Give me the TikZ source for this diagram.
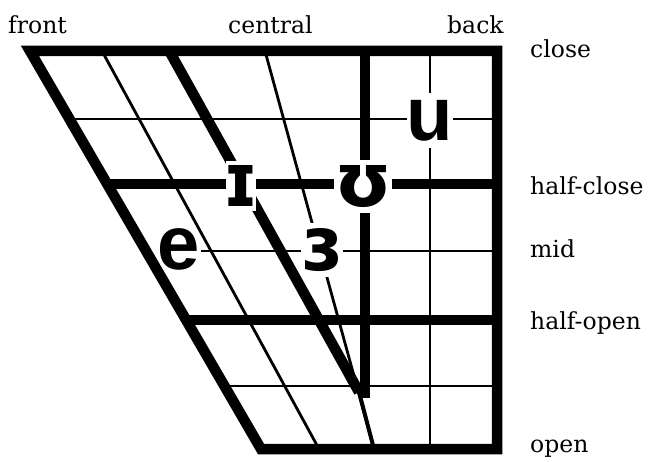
\documentclass[tikz,border=0pt]{standalone}
\usepackage{fontspec}
\setmainfont{DejaVu Serif}
\newfontfamily\ipafont{DejaVu Sans}
\newfontfamily\helvfont{Liberation Sans}
\usetikzlibrary{backgrounds}
\begin{document}
\begin{tikzpicture}[x=1pt,y=-1pt,
  thickline/.style={line width=10.5pt},
  thinline/.style={line width=2.8pt},
  lbl/.style={anchor=base west, inner sep=0pt, font=\fontsize{23.5}{26}\selectfont},
  vowelipa/.style={inner sep=0pt, text height=41pt, text depth=0pt,
    font=\ipafont\bfseries\fontsize{75}{80}\selectfont},
  vowellat/.style={inner sep=0pt, text height=41pt, text depth=0pt,
    font=\helvfont\bfseries\fontsize{76}{80}\selectfont},
  gapbox/.style={fill=white}
]
\useasboundingbox (0,0) rectangle (648,462);

% frame and grid coordinates
\coordinate (TL) at (30,51);
\coordinate (TR) at (497,51);
\coordinate (BR) at (497,449);
\coordinate (BL) at (261,449);
\coordinate (r1L) at (69.6,119);  \coordinate (r1R) at (497,119);
\coordinate (hcL) at (107.4,184); \coordinate (hcR) at (497,184);
\coordinate (midR) at (497,251);
\coordinate (hoL) at (186.5,320); \coordinate (hoR) at (497,320);
\coordinate (r5L) at (224.9,386); \coordinate (r5R) at (497,386);
\coordinate (c1T) at (102,51);   \coordinate (c1B) at (319,449);
\coordinate (c2T) at (169.3,51); \coordinate (P) at (359,392);
\coordinate (c3T) at (265,51);   \coordinate (c3B) at (374,449);
\coordinate (c4T) at (365,51);   \coordinate (c4B) at (365,398);
\coordinate (c5T) at (430,51);   \coordinate (c5B) at (430,449);

% vowel symbols
\node[vowelipa, gapbox, minimum width=30pt, minimum height=50pt] (vI) at (241,186) {\makebox[0pt]{\scalebox{0.85}[1]{ɪ}}};
\node[vowelipa, gapbox, minimum width=58pt, minimum height=53pt] (vU) at (363,186.5) {\makebox[0pt]{ʊ}};
\node[vowellat, gapbox, minimum width=46pt, minimum height=55pt] (vu) at (430,120.5) {\makebox[0pt]{u}};
\node[vowellat, minimum width=44pt, minimum height=46pt] (ve) at (179,249) {\makebox[0pt]{e}};
\node[vowelipa, gapbox, minimum width=42pt, minimum height=54pt] (v3) at (322,250) {\makebox[0pt]{ɜ}};

% labels
\node[lbl] (front) at (8,34) {front};
\node[lbl] (central) at (228,34) {central};
\node[lbl] (back) at (447,34) {back};
\node[lbl] (close) at (530,58) {close};
\node[lbl] (halfclose) at (530,195) {half-close};
\node[lbl] (mid) at (530,258) {mid};
\node[lbl] (halfopen) at (530,330) {half-open};
\node[lbl] (open) at (530,452) {open};

\begin{pgfonlayer}{background}
\fill[white] (0,0) rectangle (648,462);
% thin lines
\draw[thinline] (r1L) -- (r1R);
\draw[thinline] (ve.east |- midR) -- (midR);
\draw[thinline] (r5L) -- (r5R);
\draw[thinline] (c1T) -- (c1B);
\draw[thinline] (c3T) -- (c3B);
\draw[line width=4pt] (P) -- (c3B);
\draw[thinline] (c5T) -- (c5B);
% thick lines
\draw[thickline] (hcL) -- (hcR);
\draw[thickline] (hoL) -- (hoR);
\draw[thickline] (c2T) -- (P);
\draw[thickline] (c4T) -- (c4B);
\draw[thickline, line join=miter] (TL) -- (TR) -- (BR) -- (BL) -- cycle;
\end{pgfonlayer}
\end{tikzpicture}
\end{document}
